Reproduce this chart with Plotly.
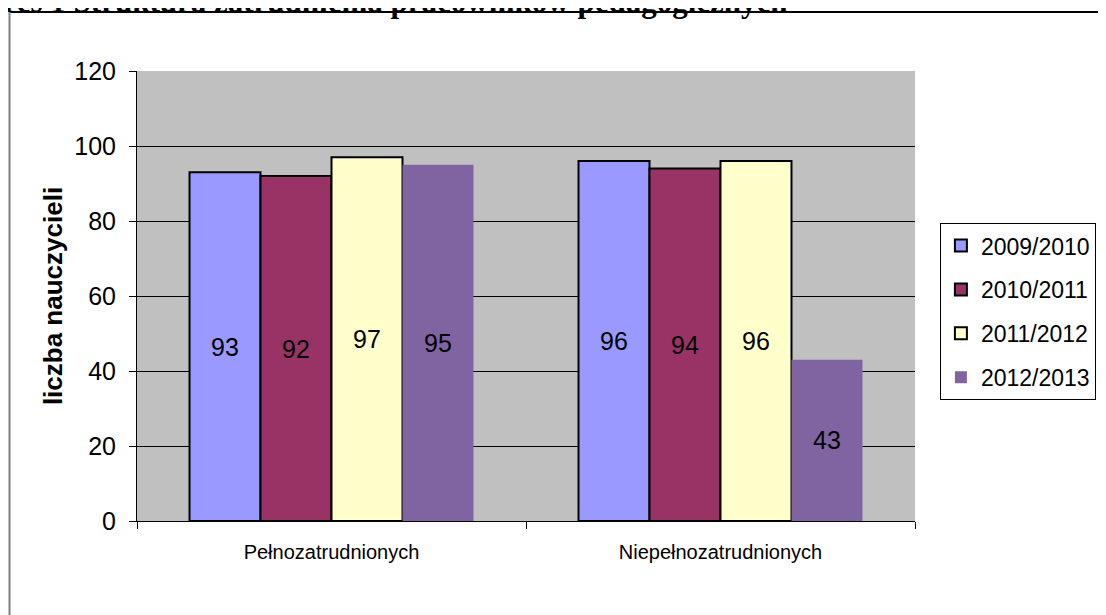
import plotly.graph_objects as go

categories = ["Pełnozatrudnionych", "Niepełnozatrudnionych"]
years = ["2009/2010", "2010/2011", "2011/2012", "2012/2013"]
values = [
    [93, 96],
    [92, 94],
    [97, 96],
    [95, 43],
]
colors = ["#9999FF", "#993366", "#FFFFCC", "#8064A2"]
outline = [2, 2, 2, 0]

FONT = "Liberation Sans, Arial, sans-serif"

fig = go.Figure()
for i, year in enumerate(years):
    fig.add_trace(go.Bar(
        x=categories, y=values[i], name=year,
        marker=dict(color=colors[i], line=dict(color="black", width=outline[i])),
        text=[str(v) for v in values[i]],
        textposition="inside", insidetextanchor="middle", textangle=0,
        textfont=dict(size=25, color="black", family=FONT),
        legendgroup=year,
    ))

# outer frame of the original document
fig.add_shape(type="line", xref="paper", yref="paper",
              x0=-0.1639, x1=1.25, y0=1.1311, y1=1.1311,
              line=dict(color="black", width=2))
fig.add_shape(type="line", xref="paper", yref="paper",
              x0=-0.1639, x1=-0.1639, y0=1.1311, y1=-0.25,
              line=dict(color="#808080", width=2))

# clipped caption above the frame
fig.add_annotation(
    text="<b>Wykres 1 Struktura zatrudnienia pracowników pedagogicznych</b>",
    xref="paper", yref="paper", x=0.8393, y=1.1111,
    xanchor="right", yanchor="bottom", showarrow=False,
    font=dict(family="Liberation Serif, Times New Roman, serif", size=31, color="black"),
)

fig.update_layout(
    barmode="group", bargap=0.27, bargroupgap=0,
    width=1098, height=607,
    margin=dict(l=129, r=191, t=63, b=94, autoexpand=False),
    paper_bgcolor="white", plot_bgcolor="#C0C0C0",
    font=dict(family=FONT, size=24, color="black"),
    showlegend=True,
    legend=dict(
        x=1.032, y=0.662, xanchor="left", yanchor="top",
        bordercolor="black", borderwidth=1, bgcolor="white",
        font=dict(size=23), tracegroupgap=11, traceorder="grouped",
        itemwidth=30,
    ),
    xaxis=dict(
        showline=True, linecolor="black", linewidth=1,
        ticks="outside", tickson="boundaries", ticklen=7, tickcolor="black",
        tickfont=dict(size=20), ticklabelstandoff=13,
    ),
    yaxis=dict(
        range=[0, 120], dtick=20, showline=True, linecolor="black", linewidth=1,
        ticks="outside", ticklen=7, tickcolor="black",
        showgrid=True, gridcolor="black", gridwidth=1,
        tickfont=dict(size=25), zeroline=False, ticklabelstandoff=8,
        title=dict(text="<b>liczba nauczycieli</b>", font=dict(size=26), standoff=4),
    ),
)

fig.write_html("out.html")
